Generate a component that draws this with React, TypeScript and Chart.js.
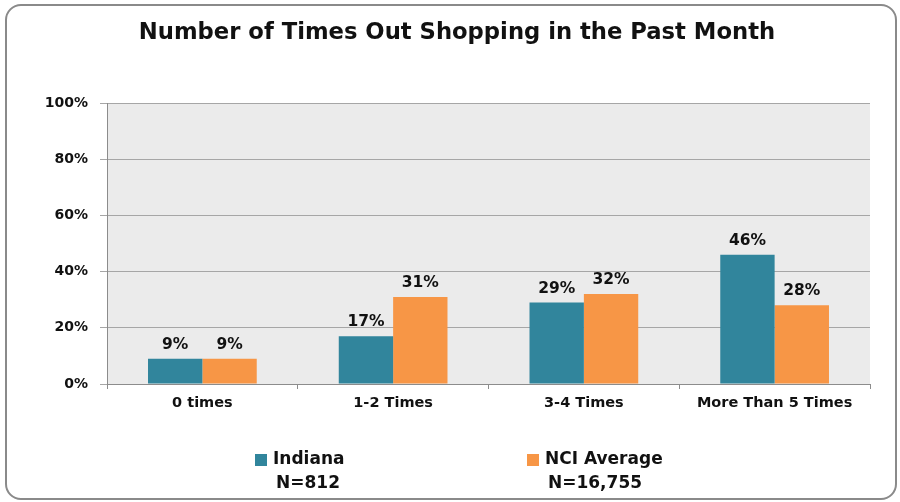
import React, { useEffect, useRef } from "react";
import { Chart, registerables } from "chart.js";

Chart.register(...registerables);

const TITLE = "Number of Times Out Shopping in the Past Month";
const categories = ["0 times", "1-2 Times", "3-4 Times", "More Than 5 Times"];
const seriesNames = ["Indiana", "NCI Average"];
const seriesN = ["N=812", "N=16,755"];
const indiana = [9, 17, 29, 46];
const nciAverage = [9, 31, 32, 28];
const yTicks = [0, 20, 40, 60, 80, 100];

const TEAL = "#31859c";
const ORANGE = "#f79646";
const FONT = "'DejaVu Sans', 'Open Sans', sans-serif";

export default function App() {
  const ref = useRef<HTMLCanvasElement | null>(null);

  useEffect(() => {
    document.body.style.margin = "0";
    const canvas = ref.current;
    if (!canvas) return;

    const bgPlugin = {
      id: "plotBg",
      beforeDraw(chart: any) {
        const { ctx, chartArea } = chart;
        ctx.save();
        ctx.fillStyle = "#ebebeb";
        ctx.fillRect(chartArea.left, chartArea.top, chartArea.right - chartArea.left, chartArea.bottom - chartArea.top);
        ctx.restore();
      },
    };

    const labelPlugin = {
      id: "extras",
      afterDatasetsDraw(chart: any) {
        const { ctx } = chart;
        ctx.save();
        ctx.font = `bold 15.5px ${FONT}`;
        ctx.fillStyle = "#111";
        ctx.textAlign = "center";
        ctx.textBaseline = "alphabetic";
        chart.data.datasets.forEach((ds: any, di: number) => {
          const meta = chart.getDatasetMeta(di);
          meta.data.forEach((el: any, i: number) => {
            ctx.fillText(`${ds.data[i]}%`, el.x, el.y - 10);
          });
        });
        ctx.restore();
      },
      afterDraw(chart: any) {
        const { ctx } = chart;
        ctx.save();
        // title
        ctx.font = `bold 22.7px ${FONT}`;
        ctx.fillStyle = "#111";
        ctx.textAlign = "center";
        ctx.textBaseline = "middle";
        ctx.fillText(TITLE, 457, 33);
        // legend
        const legendX = [255, 527];
        const nCenter = [308, 595];
        const colors = [TEAL, ORANGE];
        seriesNames.forEach((name, i) => {
          ctx.fillStyle = colors[i];
          ctx.fillRect(legendX[i], 454, 12, 12);
          ctx.fillStyle = "#111";
          ctx.font = `bold 17px ${FONT}`;
          ctx.textAlign = "left";
          ctx.textBaseline = "middle";
          ctx.fillText(name, legendX[i] + 18, 460);
          ctx.textAlign = "center";
          ctx.fillText(seriesN[i], nCenter[i], 484);
        });
        ctx.restore();
      },
    };

    const chart = new Chart(canvas, {
      type: "bar",
      data: {
        labels: categories,
        datasets: [
          { label: seriesNames[0], data: indiana, backgroundColor: TEAL, borderWidth: 0 },
          { label: seriesNames[1], data: nciAverage, backgroundColor: ORANGE, borderWidth: 0 },
        ],
      },
      options: {
        animation: false,
        responsive: false,
        maintainAspectRatio: false,
        layout: { padding: { top: 103, right: 30, left: 0, bottom: 0 } },
        datasets: { bar: { categoryPercentage: 0.57, barPercentage: 1 } },
        plugins: {
          legend: { display: false },
          title: { display: false },
          tooltip: { enabled: false },
        },
        scales: {
          x: {
            offset: true,
            grid: { display: true, drawOnChartArea: false, offset: true, color: "#8c8c8c", tickLength: 5 },
            border: { color: "#8c8c8c", width: 1 },
            ticks: { color: "#111", font: { family: FONT, weight: "bold", size: 14.5 }, padding: 6 },
            afterFit(scale: any) {
              scale.height = 118;
            },
          },
          y: {
            min: 0,
            max: 100,
            afterBuildTicks(scale: any) {
              scale.ticks = yTicks.map((v) => ({ value: v }));
            },
            grid: { color: "#a6a6a6", tickLength: 7 },
            border: { color: "#8c8c8c", width: 1 },
            ticks: {
              color: "#111",
              font: { family: FONT, weight: "bold", size: 14 },
              padding: 12,
              callback: (v: any) => `${v}%`,
            },
            afterFit(scale: any) {
              scale.width = 107;
            },
          },
        },
      },
      plugins: [bgPlugin, labelPlugin],
    });

    return () => chart.destroy();
  }, []);

  return (
    <div style={{ position: "relative", width: 900, height: 502, background: "#fff", overflow: "hidden" }}>
      <div
        style={{
          position: "absolute",
          left: 5,
          top: 4,
          width: 892,
          height: 496,
          border: "2px solid #8a8a8a",
          borderRadius: 16,
          boxSizing: "border-box",
        }}
      />
      <canvas ref={ref} width={900} height={502} style={{ position: "absolute", left: 0, top: 0 }} />
    </div>
  );
}
